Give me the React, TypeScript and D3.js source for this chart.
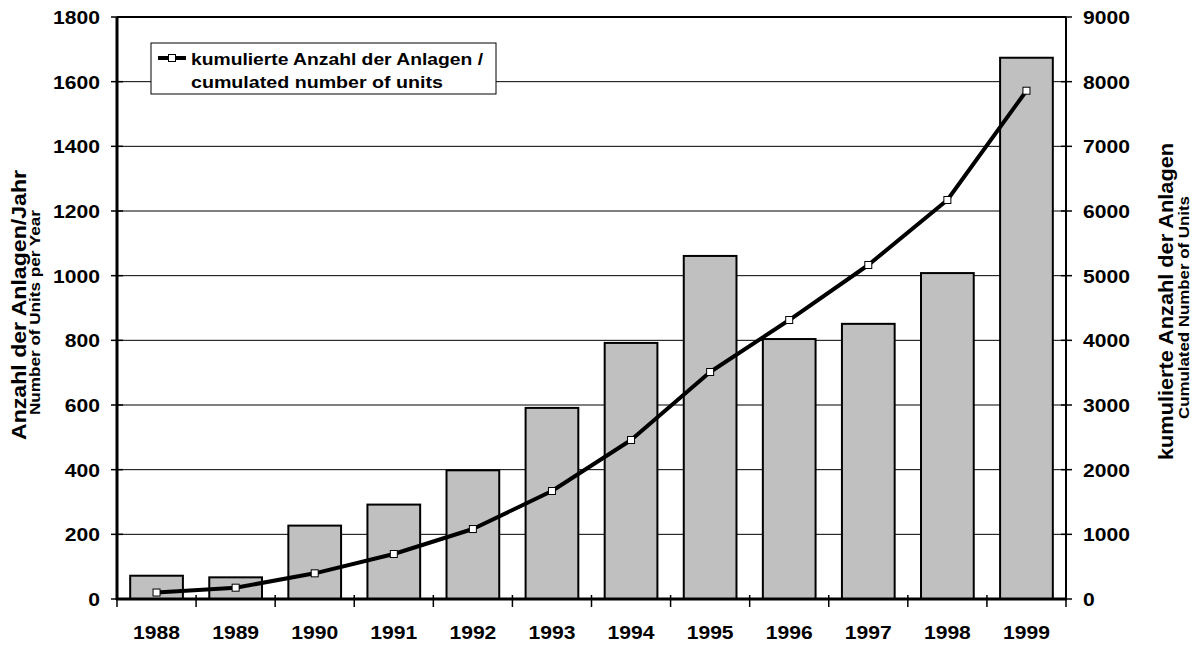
import React from "react";
import * as d3 from "d3";

const years = ["1988","1989","1990","1991","1992","1993","1994","1995","1996","1997","1998","1999"];
const unitsPerYear = [72, 67, 227, 292, 398, 591, 792, 1061, 804, 851, 1008, 1674];
const cumulated = [100, 175, 397, 696, 1082, 1670, 2459, 3510, 4314, 5165, 6170, 7860];
const leftTicks = [0, 200, 400, 600, 800, 1000, 1200, 1400, 1600, 1800];
const rightTicks = [0, 1000, 2000, 3000, 4000, 5000, 6000, 7000, 8000, 9000];

const W = 1198, H = 646;
const L = 117, R = 1066, T = 17, B = 599;
const FONT = "Arial, 'Liberation Sans', sans-serif";
const SX = 1.11;

function Num({ x, y, anchor, children }: { x: number; y: number; anchor: string; children: any }) {
  return (
    <text transform={`translate(${x},${y}) scale(${SX},1)`} textAnchor={anchor} fontSize={19}>{children}</text>
  );
}

export default function App() {
  const x = d3.scaleBand<string>().domain(years).range([L, R]).paddingInner(1/3).paddingOuter(1/6);
  const xc = d3.scaleBand<string>().domain(years).range([L, R]);
  const yL = d3.scaleLinear().domain([0, 1800]).range([B, T]);
  const yR = d3.scaleLinear().domain([0, 9000]).range([B, T]);
  const cx = (i: number) => (xc(years[i]) as number) + xc.bandwidth() / 2;
  const line = d3.line<number>().x((_, i) => cx(i)).y(d => yR(d));

  return (
    <svg width={W} height={H} style={{ position: "absolute", left: 0, top: 0, background: "#fff" }}
      fontFamily={FONT} fontWeight="bold">
      {leftTicks.filter(t => t > 0 && t < 1800).map(t => (
        <line key={"g" + t} x1={L} x2={R} y1={yL(t)} y2={yL(t)} stroke="#000" strokeWidth={1} />
      ))}
      {years.map((yr, i) => (
        <rect key={yr} x={x(yr)} y={yL(unitsPerYear[i])} width={x.bandwidth()}
          height={B - yL(unitsPerYear[i])} fill="#c0c0c0" stroke="#000" strokeWidth={2} />
      ))}
      <line x1={L} x2={R} y1={T} y2={T} stroke="#000" strokeWidth={2} />
      <line x1={R} x2={R} y1={T} y2={B} stroke="#000" strokeWidth={2} />
      <line x1={L} x2={L} y1={T} y2={B + 1} stroke="#000" strokeWidth={3} />
      <line x1={L - 1} x2={R + 1} y1={B} y2={B} stroke="#000" strokeWidth={3} />
      {leftTicks.map(t => (
        <g key={"l" + t}>
          <line x1={L - 6} x2={L + 6} y1={yL(t)} y2={yL(t)} stroke="#000" strokeWidth={1.5} />
          <Num x={100} y={yL(t) + 7} anchor="end">{t}</Num>
        </g>
      ))}
      {rightTicks.map(t => (
        <g key={"r" + t}>
          <line x1={R - 5} x2={R + 6} y1={yR(t)} y2={yR(t)} stroke="#000" strokeWidth={1.5} />
          <Num x={1083} y={yR(t) + 7} anchor="start">{t}</Num>
        </g>
      ))}
      {[...years.map(y => xc(y) as number), R].map((px, i) => (
        <line key={"x" + i} x1={px} x2={px} y1={B - 4} y2={B + 8} stroke="#000" strokeWidth={1.5} />
      ))}
      {years.map((yr, i) => (
        <Num key={"t" + yr} x={cx(i)} y={639} anchor="middle">{yr}</Num>
      ))}
      <path d={line(cumulated) || ""} fill="none" stroke="#000" strokeWidth={4} strokeLinejoin="round" />
      {cumulated.map((v, i) => (
        <rect key={"m" + i} x={cx(i) - 3.5} y={yR(v) - 3.5}
          width={7} height={7} fill="#fff" stroke="#000" strokeWidth={1} />
      ))}
      <rect x={151} y={43} width={345} height={51} fill="#fff" stroke="#000" strokeWidth={1} />
      <line x1={158} x2={186} y1={58} y2={58} stroke="#000" strokeWidth={4} />
      <rect x={168.5} y={54.5} width={7} height={7} fill="#fff" stroke="#000" strokeWidth={1} />
      <text x={191} y={65} fontSize={17} textLength={292} lengthAdjust="spacingAndGlyphs">kumulierte Anzahl der Anlagen /</text>
      <text x={191} y={88} fontSize={17} textLength={252} lengthAdjust="spacingAndGlyphs">cumulated number of units</text>
      <text transform="translate(26,305) rotate(-90)" x={-135} fontSize={20.5} textLength={270} lengthAdjust="spacingAndGlyphs">Anzahl der Anlagen/Jahr</text>
      <text transform="translate(40,313) rotate(-90)" x={-102} fontSize={14} textLength={205} lengthAdjust="spacingAndGlyphs">Number of Units per Year</text>
      <text transform="translate(1173,302) rotate(-90)" x={-158} fontSize={20.5} textLength={317} lengthAdjust="spacingAndGlyphs">kumulierte Anzahl der Anlagen</text>
      <text transform="translate(1189,308) rotate(-90)" x={-111} fontSize={14} textLength={223} lengthAdjust="spacingAndGlyphs">Cumulated Number of Units</text>
    </svg>
  );
}
